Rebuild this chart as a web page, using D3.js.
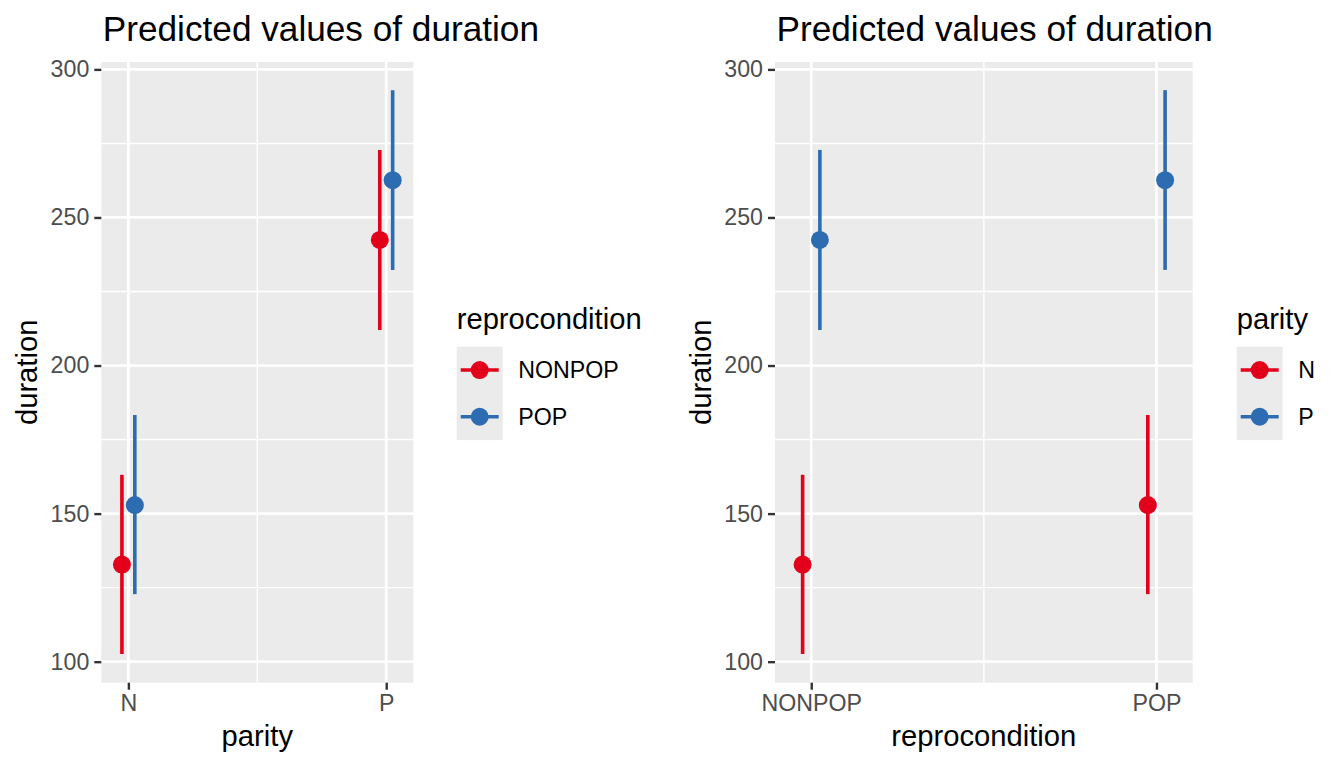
<!DOCTYPE html>
<html>
<head>
<meta charset="utf-8">
<script src="https://cdn.jsdelivr.net/npm/d3@7"></script>
<style>
body { margin: 0; background: #fff; }
text { font-family: "Liberation Sans", Arial, Helvetica, sans-serif; }
</style>
</head>
<body>
<svg id="chart" width="1344" height="768"></svg>
<script>
// categories
var parity = ["N", "P"]
var reprocondition = ["NONPOP", "POP"]
// predicted values, rows = parity, cols = reprocondition
var predicted = [[132.8, 152.9], [242.4, 262.6]]
var confLow = [[102.6, 122.8], [212.0, 232.3]]
var confHigh = [[163.1, 183.3], [272.8, 293.0]]
var yTicks = [100, 150, 200, 250, 300]
var yMinor = [125, 175, 225, 275]
var colors = ["#E2001A", "#2D6CB1"]

var rows = []
parity.forEach(function(p, i) {
	reprocondition.forEach(function(r, j) {
		rows.push({parity: p, reprocondition: r, pi: i, ri: j,
			predicted: predicted[i][j], low: confLow[i][j], high: confHigh[i][j]})
	})
})

var svg = d3.select("#chart")
svg.append("rect").attr("width", 1344).attr("height", 768).attr("fill", "#fff")

function drawPanel(o) {
	var g = svg.append("g")
	var x = d3.scaleLinear().domain([0.895, 2.105]).range([o.left, o.right])
	var y = d3.scaleLinear().domain([92.9, 302.5]).range([o.bottom, o.top])
	var cats = o.xKey === "parity" ? parity : reprocondition
	var groups = o.groupKey === "parity" ? parity : reprocondition

	g.append("text")
		.attr("x", o.left + 1.5).attr("y", 41)
		.attr("font-size", 35.2).attr("fill", "#000")
		.text("Predicted values of duration")

	g.append("rect")
		.attr("x", o.left).attr("y", o.top)
		.attr("width", o.right - o.left).attr("height", o.bottom - o.top)
		.attr("fill", "#EBEBEB")

	// minor grid
	g.selectAll(".hmin").data(yMinor).enter().append("line")
		.attr("x1", o.left).attr("x2", o.right)
		.attr("y1", d => y(d)).attr("y2", d => y(d))
		.attr("stroke", "#fff").attr("stroke-width", 1.4)
	g.selectAll(".vmin").data([1.5]).enter().append("line")
		.attr("y1", o.top).attr("y2", o.bottom)
		.attr("x1", d => x(d)).attr("x2", d => x(d))
		.attr("stroke", "#fff").attr("stroke-width", 1.4)
	// major grid
	g.selectAll(".hmaj").data(yTicks).enter().append("line")
		.attr("x1", o.left).attr("x2", o.right)
		.attr("y1", d => y(d)).attr("y2", d => y(d))
		.attr("stroke", "#fff").attr("stroke-width", 2.7)
	g.selectAll(".vmaj").data([1, 2]).enter().append("line")
		.attr("y1", o.top).attr("y2", o.bottom)
		.attr("x1", d => x(d)).attr("x2", d => x(d))
		.attr("stroke", "#fff").attr("stroke-width", 2.7)

	function px(d) {
		var xi = o.xKey === "parity" ? d.pi : d.ri
		var gi = o.groupKey === "parity" ? d.pi : d.ri
		return x(xi + 1 + (gi === 0 ? -0.025 : 0.025))
	}
	function col(d) {
		return colors[o.groupKey === "parity" ? d.pi : d.ri]
	}

	g.selectAll(".err").data(rows).enter().append("line")
		.attr("x1", px).attr("x2", px)
		.attr("y1", d => y(d.low)).attr("y2", d => y(d.high))
		.attr("stroke", col).attr("stroke-width", 3.6)
	g.selectAll(".pt").data(rows).enter().append("circle")
		.attr("cx", px).attr("cy", d => y(d.predicted))
		.attr("r", 9).attr("fill", col)

	// axes
	var ya = g.append("g").attr("transform", "translate(" + o.left + ",0)")
		.call(d3.axisLeft(y).tickValues(yTicks).tickSize(7).tickPadding(5))
	ya.select(".domain").remove()
	ya.selectAll(".tick line").attr("stroke", "#333").attr("stroke-width", 2.4)
	ya.selectAll(".tick text").attr("font-size", 23.2).attr("fill", "#4D4D4D")
		.attr("font-family", null)

	var xa = g.append("g").attr("transform", "translate(0," + o.bottom + ")")
		.call(d3.axisBottom(x).tickValues([1, 2]).tickFormat(d => cats[d - 1]).tickSize(7).tickPadding(5))
	xa.select(".domain").remove()
	xa.selectAll(".tick line").attr("stroke", "#333").attr("stroke-width", 2.4)
	xa.selectAll(".tick text").attr("font-size", 23.2).attr("fill", "#4D4D4D")
		.attr("font-family", null)

	g.append("text")
		.attr("x", (o.left + o.right) / 2).attr("y", 746)
		.attr("text-anchor", "middle").attr("font-size", 29.2)
		.text(o.xKey)
	g.append("text")
		.attr("transform", "translate(" + (o.left - 64) + "," + ((o.top + o.bottom) / 2) + ") rotate(-90)")
		.attr("text-anchor", "middle").attr("font-size", 29.2)
		.text("duration")

	// legend
	var lg = g.append("g")
	lg.append("text").attr("x", o.legendX).attr("y", 329)
		.attr("font-size", 29.2).text(o.groupKey)
	lg.append("rect").attr("x", o.legendX).attr("y", 346.7)
		.attr("width", 46).attr("height", 93.4).attr("fill", "#EBEBEB")
	var keys = lg.selectAll(".key").data(groups).enter().append("g")
		.attr("transform", (d, i) => "translate(" + o.legendX + "," + (346.7 + 23.35 + i * 46.7) + ")")
	keys.append("line").attr("x1", 4).attr("x2", 42)
		.attr("stroke", (d, i) => colors[i]).attr("stroke-width", 3.6)
	keys.append("circle").attr("cx", 23).attr("r", 9).attr("fill", (d, i) => colors[i])
	keys.append("text").attr("x", 61.5).attr("dy", "0.36em")
		.attr("font-size", 23.2).text(d => d)
}

drawPanel({left: 101.3, right: 413.3, top: 62, bottom: 682.7,
	xKey: "parity", groupKey: "reprocondition", legendX: 456.7})
drawPanel({left: 775, right: 1192.7, top: 62, bottom: 682.7,
	xKey: "reprocondition", groupKey: "parity", legendX: 1236.7})
</script>
</body>
</html>
